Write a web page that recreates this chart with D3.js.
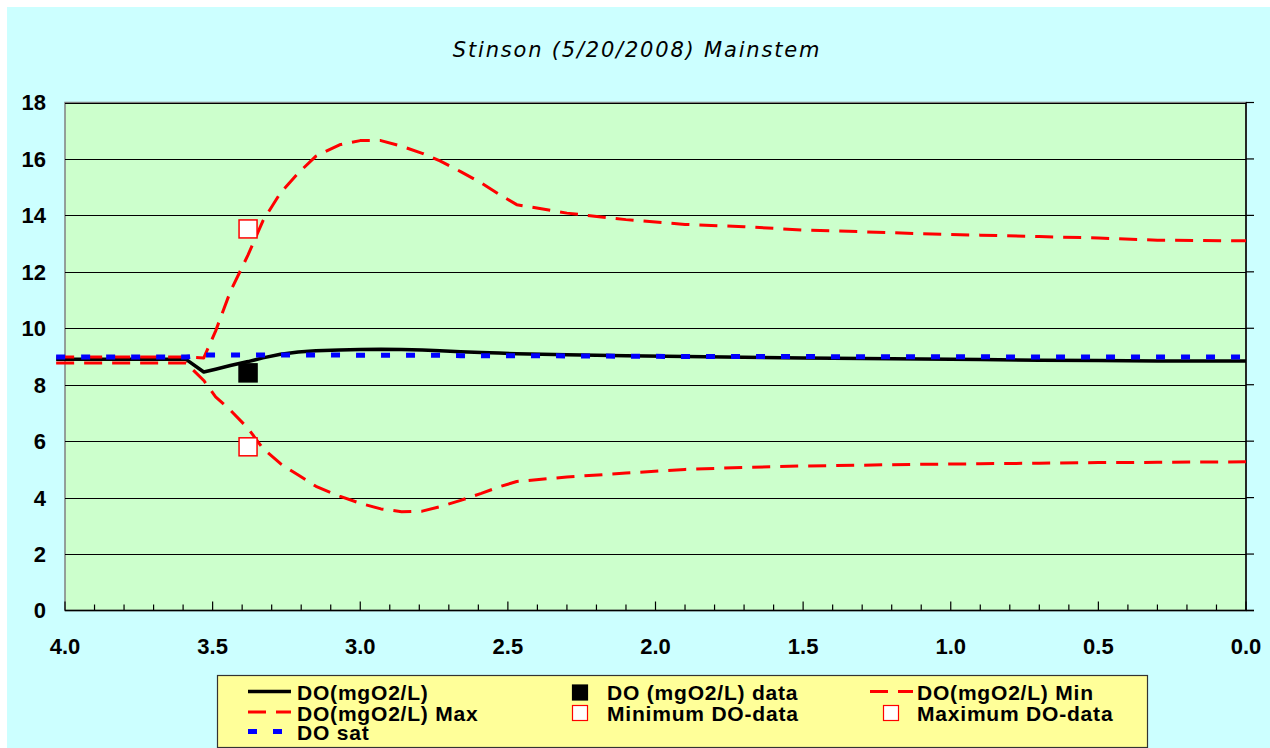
<!DOCTYPE html>
<html>
<head>
<meta charset="utf-8">
<script src="https://cdn.jsdelivr.net/npm/d3@7"></script>
<style>
  html, body { margin: 0; padding: 0; background: #fff; }
  svg { display: block; }
</style>
</head>
<body>
<div id="chart"></div>
<script>
// distance (km) along the mainstem, model output points
const dist = [4.03, 3.59, 3.53, 3.49, 3.44, 3.38, 3.33, 3.27, 3.21, 3.15, 3.07, 3.0, 2.93, 2.86, 2.79, 2.73, 2.66, 2.59, 2.53, 2.47, 2.3, 2.1, 1.9, 1.7, 1.5, 1.3, 1.1, 0.9, 0.7, 0.5, 0.3, 0.0]
const doMod = [8.9, 8.9, 8.45, 8.55, 8.68, 8.82, 8.95, 9.08, 9.16, 9.2, 9.23, 9.25, 9.26, 9.25, 9.23, 9.2, 9.17, 9.14, 9.12, 9.1, 9.06, 9.03, 9.0, 8.97, 8.95, 8.93, 8.91, 8.89, 8.87, 8.86, 8.84, 8.84]
const doMax = [8.98, 8.98, 8.95, 9.9, 11.3, 12.6, 13.8, 14.8, 15.5, 16.1, 16.5, 16.65, 16.65, 16.45, 16.2, 15.93, 15.55, 15.15, 14.75, 14.38, 14.08, 13.85, 13.68, 13.6, 13.48, 13.42, 13.35, 13.3, 13.25, 13.2, 13.12, 13.1]
const doMin = [8.77, 8.77, 8.15, 7.57, 7.1, 6.45, 5.75, 5.2, 4.8, 4.4, 4.05, 3.8, 3.6, 3.5, 3.52, 3.68, 3.9, 4.15, 4.38, 4.57, 4.73, 4.87, 5.0, 5.07, 5.12, 5.15, 5.18, 5.2, 5.22, 5.24, 5.25, 5.27]
const doSat = [8.98, 8.98, 9.05, 9.05, 9.05, 9.05, 9.05, 9.05, 9.05, 9.05, 9.05, 9.04, 9.04, 9.04, 9.04, 9.04, 9.03, 9.03, 9.03, 9.03, 9.02, 9.01, 9.0, 9.0, 9.0, 8.99, 8.99, 8.99, 8.98, 8.98, 8.98, 8.98]

// field data (one station)
const dataDist = [3.38]
const dataDO = [8.42]
const dataMin = [5.8]
const dataMax = [13.52]

const xTicks = [4.0, 3.5, 3.0, 2.5, 2.0, 1.5, 1.0, 0.5, 0.0]
const yTicks = [0, 2, 4, 6, 8, 10, 12, 14, 16, 18]

const W = 1270, H = 748
const plot = { left: 65, right: 1246, top: 102.5, bottom: 610.5 }

const svg = d3.select('#chart').append('svg')
    .attr('width', W)
    .attr('height', H)

svg.append('rect')
    .attr('x', 7).attr('y', 7)
    .attr('width', W - 7).attr('height', H - 7)
    .attr('fill', '#ccffff')

const x = d3.scaleLinear().domain([4, 0]).range([plot.left, plot.right])
const y = d3.scaleLinear().domain([0, 18]).range([plot.bottom, plot.top])

svg.append('rect')
    .attr('x', plot.left).attr('y', plot.top)
    .attr('width', plot.right - plot.left)
    .attr('height', plot.bottom - plot.top)
    .attr('fill', '#ccffcc')
    .attr('stroke', '#808080')
    .attr('stroke-width', 1.5)

// gridlines
svg.append('g')
  .selectAll('line')
  .data(yTicks.filter(d => d > 0))
  .enter().append('line')
    .attr('x1', plot.left).attr('x2', plot.right)
    .attr('y1', d => Math.round(y(d)) + 0.5)
    .attr('y2', d => Math.round(y(d)) + 0.5)
    .attr('stroke', '#000')
    .attr('stroke-width', 1.2)

// x axis with inside ticks every 0.1, longer every 0.5
const minor = d3.range(0, 41).map(i => i / 10)
const xAxis = svg.append('g')
xAxis.selectAll('line.tick')
  .data(minor)
  .enter().append('line')
    .attr('class', 'tick')
    .attr('x1', d => x(d)).attr('x2', d => x(d))
    .attr('y1', plot.bottom)
    .attr('y2', d => Math.abs(d * 2 - Math.round(d * 2)) < 1e-6 ? plot.bottom - 9 : plot.bottom - 6)
    .attr('stroke', '#000')
    .attr('stroke-width', 1.2)
xAxis.append('line')
    .attr('x1', plot.left).attr('x2', plot.right + 8)
    .attr('y1', plot.bottom).attr('y2', plot.bottom)
    .attr('stroke', '#000')
    .attr('stroke-width', 1.5)
xAxis.selectAll('text')
  .data(xTicks)
  .enter().append('text')
    .attr('x', d => x(d))
    .attr('y', 654)
    .attr('text-anchor', 'middle')
    .style('font', 'bold 22px "Liberation Sans", Arial, sans-serif')
    .text(d => d3.format('.1f')(d))

// y labels on left
svg.append('g').selectAll('text')
  .data(yTicks)
  .enter().append('text')
    .attr('x', 46)
    .attr('y', d => y(d))
    .attr('dy', '0.36em')
    .attr('text-anchor', 'end')
    .style('font', 'bold 22px "Liberation Sans", Arial, sans-serif')
    .text(d => d)

// right axis, ticks outward, no labels
const rAxis = svg.append('g')
rAxis.append('line')
    .attr('x1', plot.right).attr('x2', plot.right)
    .attr('y1', plot.top).attr('y2', plot.bottom)
    .attr('stroke', '#000').attr('stroke-width', 1.5)
rAxis.selectAll('line.tick')
  .data(yTicks)
  .enter().append('line')
    .attr('class', 'tick')
    .attr('x1', plot.right).attr('x2', plot.right + 8)
    .attr('y1', d => y(d)).attr('y2', d => y(d))
    .attr('stroke', '#000').attr('stroke-width', 1.2)

// series
const line = d3.line()
    .x(d => x(d[0]))
    .y(d => y(d[1]))

const series = [
  { vals: doMod, stroke: '#000', width: 3.5, dash: null },
  { vals: doMin, stroke: '#ff0000', width: 3, dash: '18,10' },
  { vals: doMax, stroke: '#ff0000', width: 3, dash: '18,10' },
  { vals: doSat, stroke: '#0000ff', width: 5, dash: '9,16' }
]

svg.append('g').selectAll('path')
  .data(series)
  .enter().append('path')
    .attr('d', s => line(dist.map((d, i) => [d, s.vals[i]])))
    .attr('fill', 'none')
    .attr('stroke', s => s.stroke)
    .attr('stroke-width', s => s.width)
    .attr('stroke-dasharray', s => s.dash)
    .attr('stroke-linejoin', 'round')

// markers
const SQ = 18
const markers = [
  { vals: dataDO, fill: '#000', stroke: '#000' },
  { vals: dataMin, fill: '#fff', stroke: '#ff0000' },
  { vals: dataMax, fill: '#fff', stroke: '#ff0000' }
]
markers.forEach(m => {
  svg.append('g').selectAll('rect')
    .data(dataDist.map((d, i) => [d, m.vals[i]]))
    .enter().append('rect')
      .attr('x', d => x(d[0]) - SQ / 2)
      .attr('y', d => y(d[1]) - SQ / 2)
      .attr('width', SQ).attr('height', SQ)
      .attr('fill', m.fill)
      .attr('stroke', m.stroke)
      .attr('stroke-width', 1.5)
})

// title
svg.append('text')
    .attr('x', 637)
    .attr('y', 57)
    .attr('text-anchor', 'middle')
    .style('font', 'italic 21px "DejaVu Sans", Verdana, sans-serif')
    .style('letter-spacing', '1.8px')
    .text('Stinson (5/20/2008) Mainstem')

// legend
const lg = svg.append('g')
lg.append('rect')
    .attr('x', 217.5).attr('y', 675.5)
    .attr('width', 930).attr('height', 72)
    .attr('fill', '#ffff99')
    .attr('stroke', '#333').attr('stroke-width', 1.2)

const legendItems = [
  { label: 'DO(mgO2/L)', type: 'line', stroke: '#000', width: 3.5, dash: null, tx: 297, ty: 700, sx: 248 },
  { label: 'DO(mgO2/L) Max', type: 'line', stroke: '#ff0000', width: 3, dash: '18,10', tx: 297, ty: 720.5, sx: 248 },
  { label: 'DO sat', type: 'line', stroke: '#0000ff', width: 5, dash: '9,16', tx: 297, ty: 740, sx: 248 },
  { label: 'DO (mgO2/L) data', type: 'sq', fill: '#000', stroke: '#000', tx: 607, ty: 700, sx: 580 },
  { label: 'Minimum DO-data', type: 'sq', fill: '#fff', stroke: '#ff0000', tx: 607, ty: 720.5, sx: 580 },
  { label: 'DO(mgO2/L) Min', type: 'line', stroke: '#ff0000', width: 3, dash: '18,10', tx: 917, ty: 700, sx: 870 },
  { label: 'Maximum DO-data', type: 'sq', fill: '#fff', stroke: '#ff0000', tx: 917, ty: 720.5, sx: 891 }
]

legendItems.forEach(it => {
  if (it.type === 'line') {
    lg.append('line')
        .attr('x1', it.sx).attr('x2', it.sx + 43)
        .attr('y1', it.ty - 8.5).attr('y2', it.ty - 8.5)
        .attr('stroke', it.stroke)
        .attr('stroke-width', it.width)
        .attr('stroke-dasharray', it.dash)
  } else {
    lg.append('rect')
        .attr('x', it.sx - 7.5).attr('y', it.ty - 15)
        .attr('width', 15).attr('height', 15)
        .attr('fill', it.fill)
        .attr('stroke', it.stroke)
        .attr('stroke-width', 1.2)
  }
  lg.append('text')
      .attr('x', it.tx)
      .attr('y', it.ty)
      .style('font', 'bold 21px "Liberation Sans", Arial, sans-serif')
      .style('letter-spacing', '0.8px')
      .text(it.label)
})
</script>
</body>
</html>
